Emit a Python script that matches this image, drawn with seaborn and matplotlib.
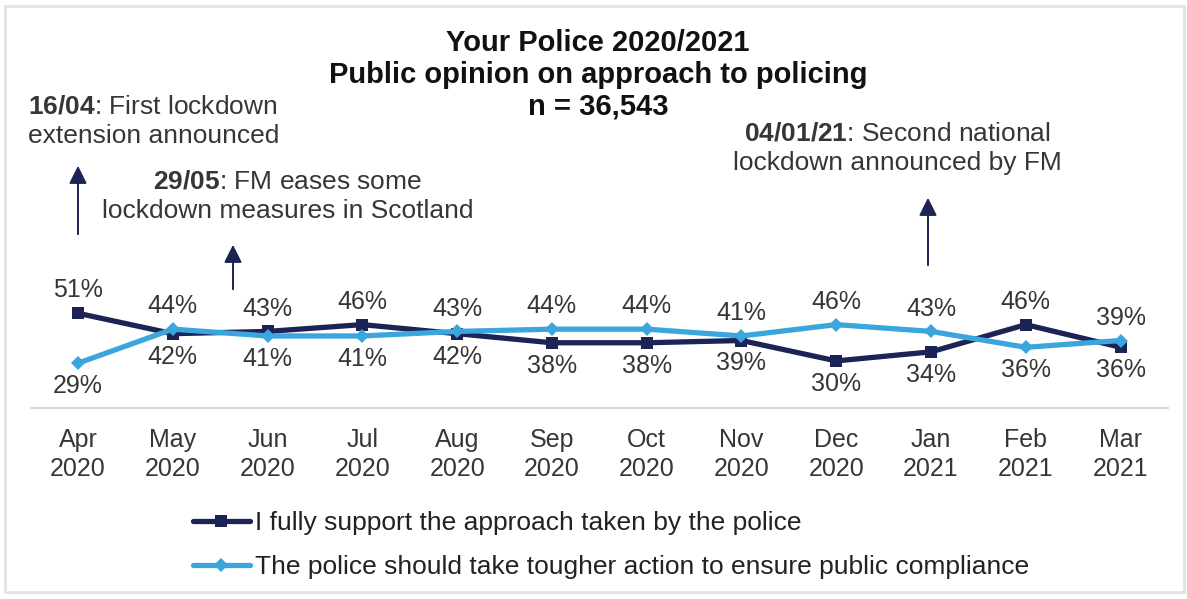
import numpy as np
import pandas as pd
import matplotlib
matplotlib.use("Agg")
import matplotlib.pyplot as plt
import matplotlib.patches as mpatches
import seaborn as sns

# ─────────────────────────────────────────────
# Data
# ─────────────────────────────────────────────
months = ["Apr\n2020", "May\n2020", "Jun\n2020", "Jul\n2020", "Aug\n2020", "Sep\n2020",
          "Oct\n2020", "Nov\n2020", "Dec\n2020", "Jan\n2021", "Feb\n2021", "Mar\n2021"]
support = [51, 42, 43, 46, 42, 38, 38, 39, 30, 34, 46, 36]
tougher = [29, 44, 41, 41, 43, 44, 44, 41, 46, 43, 36, 39]

series_support = "I fully support the approach taken by the police"
series_tougher = "The police should take tougher action to ensure public compliance"

# label above (+1) or below (-1) the point
support_side = [1, -1, 1, 1, -1, -1, -1, -1, -1, -1, 1, -1]
tougher_side = [-1, 1, -1, -1, 1, 1, 1, 1, 1, 1, -1, 1]

title_lines = ["Your Police 2020/2021", "Public opinion on approach to policing", "n = 36,543"]

NAVY = "#1c2355"
SKY = "#3aa6dd"
TEXT = "#363636"

W, H = 1187, 599

sns.set_theme(style="white")
plt.rcParams["font.family"] = ["Liberation Sans", "DejaVu Sans"]
plt.rcParams["mathtext.fontset"] = "custom"
plt.rcParams["mathtext.rm"] = "Liberation Sans"
plt.rcParams["mathtext.bf"] = "Liberation Sans:bold"


def px(x, y):
    """Pixel position in the reference → figure fraction."""
    return x / W, 1 - y / H


df = pd.DataFrame({
    "month": months * 2,
    "series": [series_support] * len(months) + [series_tougher] * len(months),
    "value": support + tougher,
})

fig = plt.figure(figsize=(W / 100, H / 100), dpi=100)
ax = fig.add_axes([30.6 / W, 1 - 408 / H, (1168 - 30.6) / W, (408 - 100) / H])

sns.lineplot(data=df, x="month", y="value", hue="series", style="series",
             hue_order=[series_support, series_tougher],
             palette={series_support: NAVY, series_tougher: SKY},
             markers={series_support: "s", series_tougher: "D"},
             dashes=False, linewidth=3.8, markersize=9, markeredgewidth=0,
             sort=False, legend=True, ax=ax)
ax.lines[1].set_markersize(7)

ax.set_xlim(-0.5, len(months) - 0.5)
ax.set_ylim(9.25, 145)
ax.set_xlabel("")
ax.set_ylabel("")
ax.set_yticks([])
for side in ["top", "left", "right"]:
    ax.spines[side].set_visible(False)
ax.spines["bottom"].set_color("#d9d9d9")
ax.spines["bottom"].set_linewidth(1.5)
ax.tick_params(axis="x", length=0, pad=14.5, labelsize=18, labelcolor=TEXT)
for lbl in ax.get_xticklabels():
    lbl.set_linespacing(1.25)

# Data labels
for values, sides in [(support, support_side), (tougher, tougher_side)]:
    for i, (v, s) in enumerate(zip(values, sides)):
        ax.annotate(f"{v}%", (i, v), xytext=(0, 16.5 * s), textcoords="offset points",
                    ha="center", va="center", fontsize=18, color=TEXT)

# Legend
handles, labels = ax.get_legend_handles_labels()
ax.get_legend().remove()
handles[1].set_markersize(7)
fig.legend(handles, labels, loc="center left", bbox_to_anchor=px(193, 545),
           frameon=False, handlelength=2.15, handletextpad=0.2,
           borderpad=0, borderaxespad=0, labelspacing=0.75,
           prop={"family": "Liberation Sans", "size": 19})
for txt in fig.legends[0].get_texts():
    txt.set_color("#222222")

# Title
for k, line in enumerate(title_lines):
    fig.text(*px(598, 43 + 32 * k), line, ha="center", va="center",
             fontsize=21, fontweight="bold", color="#111111")

# Event annotations
fig.text(*px(28, 121), "$\\bf{16/04}$: First lockdown\nextension announced",
         ha="left", va="center", fontsize=19, color=TEXT, linespacing=1.3)
fig.text(*px(288, 196), "$\\bf{29/05}$: FM eases some\nlockdown measures in Scotland",
         ha="center", va="center", fontsize=19, color=TEXT, linespacing=1.3)
fig.text(*px(897, 148), "$\\bf{04/01/21}$: Second national\nlockdown announced by FM",
         ha="center", va="center", fontsize=19, color=TEXT, linespacing=1.3)

arrow_kw = dict(arrowstyle="-|>,head_length=0.6,head_width=0.3", color=NAVY,
                lw=1.4, mutation_scale=18)
for x0, y0, y1 in [(78, 237, 163), (233, 292, 242), (928, 268, 195)]:
    fig.add_artist(mpatches.FancyArrowPatch(px(x0, y0), px(x0, y1),
                                            transform=fig.transFigure, **arrow_kw))

# Outer frame
fig.add_artist(mpatches.Rectangle(px(5, 592), (1184 - 5) / W, (592 - 6) / H,
                                  transform=fig.transFigure, fill=False,
                                  edgecolor="#e3e3e3", lw=2))

fig.savefig("out.png", dpi=100)
plt.close(fig)
